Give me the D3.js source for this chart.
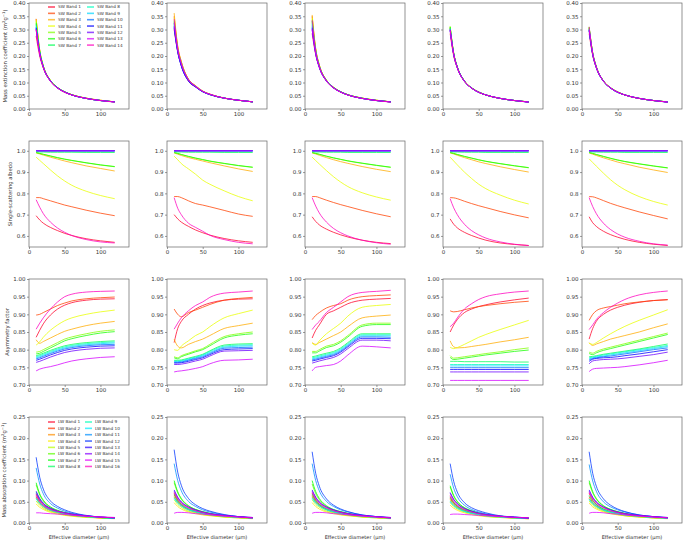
<!DOCTYPE html>
<html>
<head>
<meta charset="utf-8">
<script src="https://cdn.jsdelivr.net/npm/d3@7"></script>
<style>
  body { margin: 0; background: #fff; }
  svg { display: block; }
  text { font-family: "DejaVu Sans", sans-serif; fill: #333; }
</style>
</head>
<body>
<div id="chart"></div>
<script>
// effective diameters (um) at which every band is sampled
var diameters = [10, 15, 20, 30, 40, 50, 60, 80, 100, 120];

var swBands = ['SW Band 1','SW Band 2','SW Band 3','SW Band 4','SW Band 5','SW Band 6','SW Band 7',
  'SW Band 8','SW Band 9','SW Band 10','SW Band 11','SW Band 12','SW Band 13','SW Band 14'];
var lwBands = ['LW Band 1','LW Band 2','LW Band 3','LW Band 4','LW Band 5','LW Band 6','LW Band 7','LW Band 8',
  'LW Band 9','LW Band 10','LW Band 11','LW Band 12','LW Band 13','LW Band 14','LW Band 15','LW Band 16'];

var xTicks = [0, 50, 100];
var extinctionTicks = [0, 0.05, 0.10, 0.15, 0.20, 0.25, 0.30, 0.35, 0.40];
var albedoTicks = [0.6, 0.7, 0.8, 0.9, 1.0];
var asymmetryTicks = [0.70, 0.75, 0.80, 0.85, 0.90, 0.95, 1.00];
var absorptionTicks = [0, 0.05, 0.10, 0.15, 0.20, 0.25];

// ---- mass extinction coefficient, SW bands 1-14, one list per column
var extinction1 = [
  [.275,.200,.155,.105,.079,.063,.053,.040,.032,.027],
  [.340,.222,.163,.108,.081,.065,.054,.041,.033,.027],
  [.340,.222,.163,.108,.081,.065,.054,.041,.033,.027],
  [.335,.220,.162,.108,.081,.065,.054,.041,.033,.027],
  [.330,.219,.162,.107,.080,.064,.054,.040,.032,.027],
  [.325,.218,.161,.107,.080,.064,.054,.040,.032,.027],
  [.320,.216,.160,.107,.080,.064,.053,.040,.032,.027],
  [.315,.214,.160,.106,.080,.064,.053,.040,.032,.027],
  [.310,.212,.159,.106,.080,.064,.053,.040,.032,.027],
  [.308,.211,.159,.106,.080,.064,.053,.040,.032,.027],
  [.305,.210,.158,.106,.080,.064,.053,.040,.032,.027],
  [.302,.209,.158,.106,.079,.064,.053,.040,.032,.027],
  [.300,.208,.158,.105,.079,.063,.053,.040,.032,.026],
  [.298,.207,.157,.105,.079,.063,.053,.040,.032,.026]
];
var extinction2 = [
  [.300,.215,.165,.105,.083,.066,.055,.041,.033,.027],
  [.350,.235,.178,.112,.087,.067,.056,.041,.033,.027],
  [.362,.238,.180,.113,.088,.068,.056,.042,.033,.027],
  [.345,.232,.177,.112,.087,.067,.056,.041,.033,.027],
  [.335,.228,.174,.111,.086,.067,.055,.041,.033,.027],
  [.330,.226,.172,.110,.086,.066,.055,.041,.033,.027],
  [.325,.224,.170,.110,.085,.066,.055,.041,.033,.027],
  [.320,.222,.168,.109,.085,.066,.055,.041,.033,.027],
  [.315,.220,.166,.108,.084,.066,.055,.041,.033,.027],
  [.310,.218,.164,.107,.084,.065,.055,.041,.033,.027],
  [.305,.216,.162,.106,.083,.065,.054,.041,.033,.027],
  [.312,.218,.165,.108,.084,.066,.055,.041,.033,.027],
  [.325,.224,.170,.110,.085,.066,.055,.041,.033,.027],
  [.340,.230,.175,.112,.087,.067,.056,.041,.033,.027]
];
var extinction3 = [
  [.285,.205,.158,.106,.080,.064,.053,.040,.032,.027],
  [.350,.226,.166,.109,.082,.065,.054,.041,.033,.027],
  [.355,.228,.167,.109,.082,.065,.054,.041,.033,.027],
  [.345,.224,.165,.109,.082,.065,.054,.041,.033,.027],
  [.338,.222,.164,.108,.081,.065,.054,.041,.033,.027],
  [.332,.220,.163,.108,.081,.065,.054,.041,.032,.027],
  [.326,.218,.162,.107,.081,.064,.054,.040,.032,.027],
  [.320,.216,.161,.107,.080,.064,.053,.040,.032,.027],
  [.315,.214,.160,.107,.080,.064,.053,.040,.032,.027],
  [.310,.212,.159,.106,.080,.064,.053,.040,.032,.027],
  [.305,.210,.158,.106,.080,.064,.053,.040,.032,.027],
  [.300,.208,.158,.106,.079,.064,.053,.040,.032,.027],
  [.300,.208,.157,.105,.079,.063,.053,.040,.032,.026],
  [.335,.220,.163,.107,.080,.064,.053,.040,.032,.026]
];
var extinction4 = [
  [.285,.200,.155,.104,.079,.063,.053,.040,.032,.027],
  [.305,.208,.158,.105,.079,.064,.053,.040,.032,.027],
  [.308,.209,.159,.106,.080,.064,.053,.040,.032,.027],
  [.310,.210,.159,.106,.080,.064,.053,.040,.032,.027],
  [.312,.211,.160,.106,.080,.064,.053,.040,.032,.027],
  [.310,.210,.159,.106,.080,.064,.053,.040,.032,.027],
  [.306,.209,.158,.105,.079,.064,.053,.040,.032,.027],
  [.304,.208,.158,.105,.079,.063,.053,.040,.032,.027],
  [.302,.207,.158,.105,.079,.063,.053,.040,.032,.026],
  [.300,.207,.157,.105,.079,.063,.053,.040,.032,.026],
  [.298,.206,.157,.105,.079,.063,.053,.040,.032,.026],
  [.296,.205,.157,.105,.079,.063,.053,.040,.032,.026],
  [.295,.205,.156,.104,.079,.063,.053,.040,.032,.026],
  [.300,.207,.157,.105,.079,.063,.053,.040,.032,.026]
];
var extinction5 = [
  [.285,.202,.156,.105,.079,.063,.053,.040,.032,.027],
  [.300,.208,.158,.106,.080,.064,.053,.040,.032,.027],
  [.305,.210,.159,.106,.080,.064,.053,.040,.032,.027],
  [.308,.211,.160,.106,.080,.064,.053,.040,.032,.027],
  [.310,.212,.160,.106,.080,.064,.053,.040,.032,.027],
  [.308,.211,.160,.106,.080,.064,.053,.040,.032,.027],
  [.305,.210,.159,.106,.080,.064,.053,.040,.032,.027],
  [.302,.209,.158,.105,.079,.063,.053,.040,.032,.027],
  [.300,.208,.158,.105,.079,.063,.053,.040,.032,.026],
  [.298,.207,.157,.105,.079,.063,.053,.040,.032,.026],
  [.296,.206,.157,.105,.079,.063,.053,.040,.032,.026],
  [.295,.205,.157,.105,.079,.063,.053,.040,.032,.026],
  [.300,.207,.157,.105,.079,.063,.053,.040,.032,.026],
  [.310,.211,.159,.106,.080,.064,.053,.040,.032,.026]
];

// ---- single-scattering albedo, SW bands 1-14
var albedo1 = [
  [.695,.675,.660,.640,.625,.612,.602,.587,.577,.570],
  [.780,.780,.775,.765,.755,.745,.737,.721,.707,.695],
  [.990,.985,.980,.970,.961,.952,.944,.929,.917,.905],
  [.970,.955,.940,.910,.882,.858,.838,.810,.790,.775],
  [.991,.987,.983,.975,.967,.960,.954,.943,.933,.925],
  [.992,.988,.984,.976,.968,.961,.955,.944,.934,.926],
  [.995,.994,.994,.993,.993,.993,.993,.992,.992,.992],
  [1,1,1,1,1,1,1,1,1,1],
  [1,1,1,1,1,1,1,1,1,1],
  [1,1,1,1,1,1,1,1,1,1],
  [1,1,1,1,1,1,1,1,1,1],
  [1,1,1,1,1,1,1,1,1,1],
  [1,1,1,1,1,1,1,1,1,1],
  [.770,.735,.705,.665,.637,.617,.602,.583,.572,.567]
];
var albedo2 = [
  [.700,.680,.665,.645,.628,.615,.604,.588,.577,.570],
  [.785,.785,.780,.765,.752,.745,.737,.720,.703,.692],
  [.990,.984,.978,.968,.960,.952,.944,.929,.915,.903],
  [.975,.958,.940,.915,.890,.862,.843,.812,.785,.765],
  [.991,.987,.982,.973,.965,.958,.951,.940,.930,.922],
  [.992,.988,.983,.974,.966,.959,.952,.941,.931,.923],
  [.995,.994,.994,.993,.993,.993,.993,.992,.992,.992],
  [1,1,1,1,1,1,1,1,1,1],
  [1,1,1,1,1,1,1,1,1,1],
  [1,1,1,1,1,1,1,1,1,1],
  [1,1,1,1,1,1,1,1,1,1],
  [1,1,1,1,1,1,1,1,1,1],
  [1,1,1,1,1,1,1,1,1,1],
  [.780,.730,.700,.660,.640,.622,.603,.583,.570,.563]
];
var albedo3 = [
  [.690,.668,.652,.632,.617,.605,.595,.580,.570,.564],
  [.785,.785,.780,.768,.757,.747,.738,.720,.704,.690],
  [.990,.985,.979,.968,.958,.949,.941,.926,.913,.902],
  [.970,.954,.938,.907,.878,.853,.832,.803,.783,.768],
  [.991,.987,.983,.974,.966,.959,.952,.941,.931,.922],
  [.992,.988,.984,.975,.967,.960,.953,.942,.932,.923],
  [.995,.994,.994,.993,.993,.993,.992,.992,.992,.992],
  [1,1,1,1,1,1,1,1,1,1],
  [1,1,1,1,1,1,1,1,1,1],
  [1,1,1,1,1,1,1,1,1,1],
  [1,1,1,1,1,1,1,1,1,1],
  [1,1,1,1,1,1,1,1,1,1],
  [1,1,1,1,1,1,1,1,1,1],
  [.780,.740,.708,.665,.635,.615,.600,.580,.568,.561]
];
var albedo4 = [
  [.680,.655,.638,.617,.602,.590,.580,.567,.560,.555],
  [.780,.779,.775,.763,.752,.742,.733,.715,.699,.685],
  [.990,.985,.979,.968,.958,.948,.940,.925,.912,.900],
  [.970,.952,.934,.900,.870,.843,.822,.792,.768,.750],
  [.991,.987,.982,.973,.965,.957,.950,.939,.929,.920],
  [.992,.988,.983,.974,.966,.958,.951,.940,.930,.921],
  [.995,.994,.994,.993,.993,.993,.992,.992,.992,.992],
  [1,1,1,1,1,1,1,1,1,1],
  [1,1,1,1,1,1,1,1,1,1],
  [1,1,1,1,1,1,1,1,1,1],
  [1,1,1,1,1,1,1,1,1,1],
  [1,1,1,1,1,1,1,1,1,1],
  [1,1,1,1,1,1,1,1,1,1],
  [.775,.732,.700,.655,.625,.605,.590,.572,.561,.555]
];
var albedo5 = [
  [.690,.662,.645,.622,.606,.594,.584,.570,.561,.555],
  [.785,.784,.779,.766,.753,.742,.732,.713,.696,.680],
  [.990,.984,.978,.967,.957,.947,.939,.923,.910,.898],
  [.962,.945,.928,.895,.864,.838,.817,.785,.762,.745],
  [.991,.987,.982,.973,.964,.956,.949,.938,.928,.919],
  [.992,.988,.983,.974,.965,.957,.950,.939,.929,.920],
  [.995,.994,.994,.993,.993,.993,.992,.992,.992,.992],
  [1,1,1,1,1,1,1,1,1,1],
  [1,1,1,1,1,1,1,1,1,1],
  [1,1,1,1,1,1,1,1,1,1],
  [1,1,1,1,1,1,1,1,1,1],
  [1,1,1,1,1,1,1,1,1,1],
  [1,1,1,1,1,1,1,1,1,1],
  [.780,.738,.705,.660,.630,.609,.594,.575,.563,.557]
];

// ---- asymmetry factor, SW bands 1-14
var asymmetry1 = [
  [.835,.855,.873,.898,.915,.926,.933,.940,.943,.944],
  [.898,.900,.905,.915,.925,.932,.938,.944,.947,.949],
  [.828,.818,.823,.833,.843,.852,.858,.868,.875,.880],
  [.813,.822,.835,.855,.870,.882,.890,.900,.907,.912],
  [.793,.795,.800,.810,.820,.830,.836,.845,.852,.856],
  [.788,.790,.795,.805,.815,.825,.831,.840,.847,.851],
  [.783,.786,.790,.798,.805,.811,.815,.820,.823,.825],
  [.780,.783,.787,.795,.802,.808,.812,.817,.820,.822],
  [.777,.780,.784,.792,.799,.805,.809,.814,.817,.819],
  [.774,.777,.781,.789,.796,.802,.806,.811,.814,.815],
  [.770,.773,.777,.785,.792,.798,.802,.807,.810,.811],
  [.764,.767,.771,.779,.786,.792,.796,.801,.804,.805],
  [.740,.745,.748,.752,.757,.763,.768,.774,.778,.780],
  [.858,.875,.890,.915,.935,.950,.957,.963,.965,.966]
];
var asymmetry2 = [
  [.820,.860,.880,.900,.915,.925,.932,.940,.943,.944],
  [.915,.900,.893,.905,.912,.920,.928,.940,.945,.948],
  [.830,.810,.805,.815,.823,.830,.840,.860,.868,.875],
  [.800,.798,.810,.825,.840,.850,.865,.890,.902,.912],
  [.780,.777,.783,.790,.797,.803,.815,.837,.845,.850],
  [.777,.774,.780,.787,.794,.800,.811,.833,.841,.845],
  [.770,.770,.771,.776,.781,.787,.797,.813,.816,.817],
  [.768,.768,.769,.774,.779,.785,.795,.810,.813,.814],
  [.766,.766,.767,.772,.777,.783,.792,.807,.810,.811],
  [.764,.764,.765,.770,.775,.780,.789,.804,.806,.807],
  [.762,.762,.763,.767,.772,.777,.786,.800,.802,.803],
  [.758,.758,.759,.763,.768,.773,.782,.796,.797,.798],
  [.737,.739,.740,.743,.747,.752,.760,.770,.771,.773],
  [.858,.875,.890,.910,.925,.935,.948,.960,.963,.966]
];
var asymmetry3 = [
  [.833,.855,.870,.900,.910,.920,.930,.940,.943,.945],
  [.885,.897,.905,.918,.925,.930,.940,.950,.953,.955],
  [.820,.815,.820,.830,.840,.850,.865,.890,.895,.898],
  [.818,.813,.825,.845,.860,.875,.895,.920,.925,.928],
  [.795,.795,.800,.810,.815,.825,.840,.870,.875,.875],
  [.791,.791,.796,.806,.811,.821,.836,.866,.871,.871],
  [.780,.782,.785,.790,.795,.805,.820,.845,.845,.845],
  [.777,.779,.782,.787,.792,.802,.817,.842,.842,.842],
  [.774,.776,.779,.784,.789,.799,.814,.839,.839,.839],
  [.771,.773,.776,.781,.786,.796,.811,.836,.836,.835],
  [.768,.770,.773,.778,.783,.793,.808,.832,.832,.831],
  [.762,.765,.768,.773,.778,.788,.803,.827,.827,.825],
  [.740,.750,.752,.755,.758,.768,.785,.810,.808,.805],
  [.857,.870,.880,.905,.920,.935,.950,.962,.965,.968]
];
var asymmetry4 = [
  [.850,.870,.885,.905,.915,.922,.927,.935,.941,.946],
  [.910,.907,.908,.913,.918,.922,.925,.930,.934,.937],
  [.825,.808,.805,.806,.809,.812,.815,.822,.828,.835],
  [.807,.803,.806,.815,.825,.835,.843,.857,.870,.883],
  [.783,.776,.777,.780,.783,.786,.789,.794,.800,.805],
  [.778,.772,.773,.776,.779,.782,.785,.790,.795,.799],
  [.767,.767,.767,.766,.766,.766,.766,.766,.765,.765],
  [.758,.758,.758,.758,.758,.758,.758,.758,.758,.758],
  [.754,.754,.754,.754,.754,.754,.754,.754,.754,.754],
  [.749,.749,.749,.749,.749,.749,.749,.749,.749,.749],
  [.744,.744,.744,.744,.744,.744,.744,.744,.744,.744],
  [.737,.737,.737,.737,.737,.737,.737,.737,.737,.737],
  [.713,.713,.713,.713,.713,.713,.713,.713,.713,.713],
  [.865,.875,.890,.915,.930,.942,.950,.958,.963,.966]
];
var asymmetry5 = [
  [.830,.860,.880,.900,.912,.920,.926,.934,.939,.942],
  [.883,.900,.910,.918,.922,.926,.930,.935,.939,.941],
  [.820,.812,.816,.823,.830,.835,.840,.850,.862,.873],
  [.818,.815,.820,.833,.845,.856,.866,.883,.898,.913],
  [.793,.790,.795,.802,.807,.812,.817,.827,.837,.847],
  [.789,.786,.791,.798,.803,.808,.813,.823,.833,.843],
  [.780,.781,.783,.787,.790,.793,.796,.802,.809,.816],
  [.777,.779,.781,.785,.788,.791,.794,.800,.806,.812],
  [.774,.777,.779,.782,.785,.788,.791,.797,.803,.809],
  [.771,.775,.777,.780,.782,.785,.788,.794,.800,.805],
  [.767,.773,.775,.777,.778,.780,.783,.788,.794,.800],
  [.760,.768,.770,.772,.773,.774,.776,.781,.786,.793],
  [.738,.745,.747,.748,.749,.750,.752,.757,.763,.770],
  [.857,.870,.885,.905,.920,.932,.942,.955,.962,.966]
];

// ---- mass absorption coefficient, LW bands 1-16
var absorption1 = [
  [.068,.052,.043,.032,.026,.022,.019,.015,.013,.011],
  [.062,.048,.040,.030,.025,.021,.018,.015,.012,.011],
  [.058,.046,.038,.029,.024,.020,.018,.014,.012,.011],
  [.045,.037,.032,.025,.021,.018,.016,.013,.012,.010],
  [.052,.042,.035,.027,.023,.019,.017,.014,.012,.011],
  [.090,.066,.052,.037,.029,.024,.021,.016,.013,.011],
  [.095,.069,.054,.038,.030,.025,.021,.016,.013,.011],
  [.073,.056,.046,.034,.027,.023,.020,.016,.013,.011],
  [.060,.048,.040,.031,.026,.022,.019,.015,.013,.011],
  [.057,.046,.039,.030,.025,.022,.019,.015,.013,.011],
  [.130,.092,.069,.046,.035,.028,.023,.017,.014,.012],
  [.155,.108,.080,.052,.039,.031,.025,.018,.014,.012],
  [.075,.058,.047,.035,.028,.024,.021,.017,.014,.012],
  [.070,.055,.045,.034,.028,.024,.021,.017,.014,.013],
  [.024,.024,.023,.022,.021,.020,.018,.016,.014,.013],
  [.065,.051,.042,.032,.027,.023,.020,.016,.014,.012]
];
var absorption2 = [
  [.070,.054,.044,.033,.027,.023,.020,.016,.013,.011],
  [.066,.051,.042,.032,.026,.022,.019,.015,.013,.011],
  [.062,.049,.041,.031,.025,.021,.019,.015,.013,.011],
  [.048,.039,.033,.026,.022,.019,.017,.014,.012,.010],
  [.055,.044,.037,.028,.024,.020,.018,.014,.012,.011],
  [.095,.071,.056,.040,.032,.026,.022,.017,.014,.012],
  [.100,.074,.058,.041,.032,.027,.023,.017,.014,.012],
  [.068,.054,.045,.034,.028,.024,.021,.017,.014,.012],
  [.060,.049,.041,.032,.027,.023,.020,.016,.014,.012],
  [.058,.047,.040,.031,.026,.022,.020,.016,.013,.012],
  [.140,.100,.076,.051,.039,.031,.026,.019,.015,.012],
  [.173,.120,.089,.058,.043,.034,.028,.020,.015,.012],
  [.078,.061,.050,.038,.031,.026,.022,.018,.015,.013],
  [.075,.059,.049,.037,.030,.025,.022,.018,.015,.013],
  [.023,.025,.025,.024,.022,.021,.019,.016,.014,.012],
  [.072,.057,.047,.036,.029,.025,.021,.017,.014,.012]
];
var absorption3 = [
  [.070,.054,.044,.033,.027,.023,.020,.016,.013,.011],
  [.065,.051,.042,.032,.026,.022,.019,.015,.013,.011],
  [.062,.049,.041,.031,.025,.021,.019,.015,.013,.011],
  [.048,.039,.033,.026,.022,.019,.017,.014,.012,.010],
  [.055,.044,.037,.028,.024,.020,.018,.014,.012,.011],
  [.092,.069,.055,.039,.031,.026,.022,.017,.014,.012],
  [.100,.074,.058,.041,.032,.027,.023,.017,.014,.012],
  [.068,.054,.045,.034,.028,.024,.021,.017,.014,.012],
  [.060,.049,.041,.032,.027,.023,.020,.016,.014,.012],
  [.058,.047,.040,.031,.026,.022,.020,.016,.013,.012],
  [.140,.100,.076,.051,.039,.031,.026,.019,.015,.012],
  [.168,.117,.087,.057,.042,.033,.027,.019,.015,.012],
  [.078,.061,.050,.038,.031,.026,.022,.018,.015,.013],
  [.075,.059,.049,.037,.030,.025,.022,.018,.015,.013],
  [.023,.025,.025,.024,.022,.021,.019,.016,.014,.012],
  [.072,.057,.047,.036,.029,.025,.021,.017,.014,.012]
];
var absorption4 = [
  [.062,.048,.040,.030,.025,.021,.018,.015,.012,.011],
  [.058,.046,.038,.029,.024,.020,.018,.014,.012,.011],
  [.055,.044,.037,.028,.023,.020,.017,.014,.012,.010],
  [.042,.035,.030,.024,.020,.017,.015,.013,.011,.010],
  [.048,.039,.033,.026,.022,.019,.016,.013,.012,.010],
  [.085,.063,.050,.036,.028,.023,.020,.016,.013,.011],
  [.088,.065,.051,.036,.029,.024,.020,.016,.013,.011],
  [.060,.048,.040,.031,.025,.022,.019,.015,.013,.011],
  [.052,.042,.036,.028,.023,.020,.018,.015,.012,.011],
  [.050,.041,.035,.027,.023,.020,.017,.014,.012,.011],
  [.115,.082,.062,.042,.032,.026,.022,.016,.013,.011],
  [.140,.098,.073,.048,.036,.029,.024,.017,.014,.011],
  [.072,.056,.046,.034,.028,.023,.020,.016,.014,.012],
  [.070,.055,.045,.034,.027,.023,.020,.016,.014,.012],
  [.020,.021,.021,.020,.019,.018,.017,.015,.013,.012],
  [.065,.051,.042,.032,.026,.022,.019,.016,.013,.012]
];
var absorption5 = [
  [.070,.054,.044,.033,.027,.023,.020,.016,.013,.011],
  [.062,.049,.041,.031,.025,.021,.019,.015,.013,.011],
  [.058,.046,.039,.030,.025,.021,.018,.015,.012,.011],
  [.047,.038,.033,.026,.022,.019,.017,.014,.012,.010],
  [.052,.042,.036,.028,.023,.020,.017,.014,.012,.011],
  [.095,.071,.056,.040,.032,.026,.022,.017,.014,.012],
  [.100,.074,.058,.041,.032,.027,.023,.017,.014,.012],
  [.065,.052,.044,.033,.027,.023,.020,.016,.014,.012],
  [.057,.047,.040,.031,.026,.022,.020,.016,.013,.012],
  [.055,.045,.039,.030,.025,.022,.019,.016,.013,.011],
  [.138,.099,.075,.050,.038,.031,.026,.019,.015,.012],
  [.168,.117,.087,.057,.042,.033,.027,.019,.015,.012],
  [.078,.061,.050,.038,.031,.026,.022,.018,.015,.013],
  [.075,.059,.049,.037,.030,.025,.022,.018,.015,.013],
  [.023,.025,.025,.024,.022,.021,.019,.016,.014,.012],
  [.072,.057,.047,.036,.029,.025,.021,.017,.014,.012]
];

// ---- layout
var W = 685, H = 542;
var colLeft = [29, 167, 305, 443, 582];
var rowTop = [3, 141, 279, 417];
var panelW = 100, panelH = 106;

// matplotlib gist_rainbow
var rainbow = d3.scaleLinear()
  .domain([0, .03, .215, .4, .586, .77, .954, 1])
  .range(['#ff0029', '#ff0000', '#ffff00', '#00ff00', '#00ffff', '#0000ff', '#ff00ff', '#ff00bf']);

var rows = [
  { data: [extinction1, extinction2, extinction3, extinction4, extinction5],
    domain: [0, 0.40], ticks: extinctionTicks, fmt: '.2f', bands: swBands,
    label: ['Mass extinction coefficient (m', '2', 'g', '\u22121', ')'], labelX: 6.5 },
  { data: [albedo1, albedo2, albedo3, albedo4, albedo5],
    domain: [0.548, 1.046], ticks: albedoTicks, fmt: '.1f', bands: swBands,
    label: ['Single-scattering albedo'], labelX: 12 },
  { data: [asymmetry1, asymmetry2, asymmetry3, asymmetry4, asymmetry5],
    domain: [0.70, 1.00], ticks: asymmetryTicks, fmt: '.2f', bands: swBands,
    label: ['Asymmetry factor'], labelX: 9 },
  { data: [absorption1, absorption2, absorption3, absorption4, absorption5],
    domain: [0, 0.25], ticks: absorptionTicks, fmt: '.2f', bands: lwBands,
    label: ['Mass absorption coefficient (m', '2', 'g', '\u22121', ')'], labelX: 6 }
];

var svg = d3.select('#chart').append('svg')
  .attr('width', W)
  .attr('height', H);

var x = d3.scaleLinear().domain([0, 140]).range([0, panelW]);

rows.forEach(function (row, r) {
  var y = d3.scaleLinear().domain(row.domain).range([panelH, 0]);
  var n = row.bands.length;
  var color = function (i) { return rainbow(i / (n - 1)); };

  var line = d3.line()
    .x(function (d, i) { return x(diameters[i]); })
    .y(function (d) { return y(d); })
    .curve(d3.curveMonotoneX);

  row.data.forEach(function (series, c) {
    var g = svg.append('g')
      .attr('transform', 'translate(' + colLeft[c] + ',' + rowTop[r] + ')');

    g.selectAll('path.band')
      .data(series)
      .enter()
      .append('path')
      .attr('class', 'band')
      .attr('d', line)
      .attr('fill', 'none')
      .attr('stroke', function (d, i) { return color(i); })
      .attr('stroke-width', 0.9)
      .attr('stroke-opacity', 0.85);

    var xAxis = g.append('g')
      .attr('transform', 'translate(0,' + panelH + ')')
      .call(d3.axisBottom(x).tickValues(xTicks).tickSize(2).tickPadding(1.5));
    var yAxis = g.append('g')
      .call(d3.axisLeft(y).tickValues(row.ticks).tickFormat(d3.format(row.fmt)).tickSize(2).tickPadding(1.5));
    [xAxis, yAxis].forEach(function (a) {
      a.select('.domain').remove();
      a.selectAll('line').attr('stroke', '#555').attr('stroke-width', 0.6);
      a.selectAll('text').attr('font-size', 5.5).attr('fill', '#333')
        .attr('font-family', '"DejaVu Sans", sans-serif');
    });

    g.append('rect')
      .attr('width', panelW)
      .attr('height', panelH)
      .attr('fill', 'none')
      .attr('stroke', '#666')
      .attr('stroke-width', 0.7);

    if (r === 3) {
      g.append('text')
        .attr('x', panelW / 2)
        .attr('y', panelH + 16)
        .attr('text-anchor', 'middle')
        .attr('font-size', 5.1)
        .text('Effective diameter (\u03bcm)');
    }

    // legends sit in the first column of the SW extinction and LW absorption rows
    if (c === 0 && (r === 0 || r === 3)) {
      var perCol = Math.ceil(n / 2);
      var lg = g.append('g').attr('transform', r === 0 ? 'translate(19,4)' : 'translate(19,5)');
      var col2 = r === 0 ? 39 : 37;
      var entry = lg.selectAll('g.entry')
        .data(row.bands)
        .enter()
        .append('g')
        .attr('transform', function (d, i) {
          return 'translate(' + (i < perCol ? 0 : col2) + ',' + ((i % perCol) * 6.35) + ')';
        });
      entry.append('line')
        .attr('x1', 0).attr('x2', 7)
        .attr('stroke', function (d, i) { return color(i); })
        .attr('stroke-width', 1.6)
        .attr('stroke-opacity', 0.7);
      entry.append('text')
        .attr('x', 10)
        .attr('dy', '0.35em')
        .attr('font-size', 4.2)
        .text(function (d) { return d; });
    }
  });

  // y label to the left of the first column
  var cy = rowTop[r] + panelH / 2;
  var lab = svg.append('text')
    .attr('transform', 'translate(' + row.labelX + ',' + cy + ') rotate(-90)')
    .attr('text-anchor', 'middle')
    .attr('font-size', 5.3);
  row.label.forEach(function (part, k) {
    var t = lab.append('tspan').text(part);
    if (k === 1 || k === 3) t.attr('dy', -1.7).attr('font-size', 3.8);
    if (k === 2 || k === 4) t.attr('dy', 1.7);
  });
});
</script>
</body>
</html>
